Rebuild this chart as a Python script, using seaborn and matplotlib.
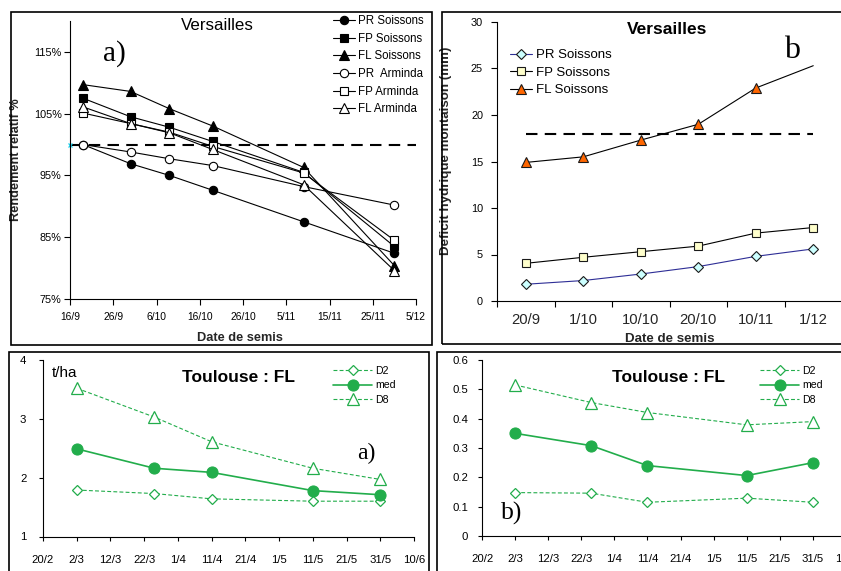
import matplotlib
matplotlib.use("Agg")
import matplotlib.pyplot as plt
import pandas as pd
import seaborn as sns
from matplotlib.patches import Rectangle
from matplotlib.ticker import PercentFormatter

W, H = 841, 571

# a) Versailles - relative yield (%) vs sowing date
SOW_A = ["19/9", "30/9", "9/10", "19/10", "9/11", "30/11"]
PR_SOISSONS = [100.0, 96.9, 95.0, 92.6, 87.5, 82.4]
FP_SOISSONS = [107.5, 104.5, 102.8, 100.5, 95.5, 83.5]
FL_SOISSONS = [109.7, 108.6, 105.8, 103.0, 96.3, 80.4]
PR_ARMINDA = [100.0, 98.8, 97.7, 96.6, 93.2, 90.2]
FP_ARMINDA = [105.1, 103.4, 102.0, 99.7, 95.4, 84.5]
FL_ARMINDA = [106.1, 103.4, 101.9, 99.2, 93.5, 79.6]
TICKS_A = ["16/9", "26/9", "6/10", "16/10", "26/10", "5/11", "15/11", "25/11", "5/12"]
YTICKS_A = [75, 85, 95, 105, 115]
REF_A = 100

# b) Versailles - water deficit at stem elongation (mm)
CATS_B = ["20/9", "1/10", "10/10", "20/10", "10/11", "1/12"]
PR_DEF = [1.8, 2.2, 2.9, 3.7, 4.8, 5.6]
FP_DEF = [4.05, 4.7, 5.3, 5.9, 7.3, 7.9]
FL_DEF = [14.9, 15.5, 17.3, 19.0, 22.9, 25.3]
YTICKS_B = [0, 5, 10, 15, 20, 25, 30]
THRESH_B = 18

# Toulouse : FL - deciles / median
SOW_T = ["2/3", "25/3", "11/4", "11/5", "31/5"]
D2_C = [1.79, 1.73, 1.64, 1.60, 1.60]
MED_C = [2.49, 2.16, 2.09, 1.78, 1.71]
D8_C = [3.52, 3.03, 2.61, 2.16, 1.97]
D2_D = [0.148, 0.146, 0.115, 0.129, 0.115]
MED_D = [0.350, 0.308, 0.240, 0.206, 0.250]
D8_D = [0.515, 0.455, 0.421, 0.379, 0.390]
TICKS_T = ["20/2", "2/3", "12/3", "22/3", "1/4", "11/4", "21/4", "1/5", "11/5", "21/5", "31/5", "10/6"]
YTICKS_C = [1, 2, 3, 4]
YTICKS_D = [0, 0.1, 0.2, 0.3, 0.4, 0.5, 0.6]
YLABELS_D = ["0", "0.1", "0.2", "0.3", "0.4", "0.5", "0.6"]

GREEN = "#22ad4b"


def to_date(text, year):
    day, month = text.split("/")
    return pd.Timestamp(year=year, month=int(month), day=int(day))


def px_box(x0, y0, x1, y1):
    return [x0 / W, 1 - y1 / H, (x1 - x0) / W, (y1 - y0) / H]


def ftext(fig, x, y, s, **kw):
    fig.text(x / W, 1 - y / H, s, ha="center", va="center", **kw)


def style_axis(ax):
    for side in ["top", "right"]:
        ax.spines[side].set_visible(False)
    for side in ["left", "bottom"]:
        ax.spines[side].set_color("black")
        ax.spines[side].set_linewidth(0.8)
    ax.tick_params(direction="out", width=0.8, color="black", labelcolor="black")


def legend_at(ax, x, y, fontsize, spacing, handlelength):
    ax.legend(
        loc="upper left",
        bbox_to_anchor=(x / W, 1 - y / H),
        bbox_transform=ax.figure.transFigure,
        frameon=False,
        borderaxespad=0,
        borderpad=0,
        fontsize=fontsize,
        labelspacing=spacing,
        handlelength=handlelength,
        handletextpad=0.3,
    )


sns.set_theme(style="ticks")
plt.rcParams["font.family"] = ["Liberation Sans", "DejaVu Sans"]
plt.rcParams["text.color"] = "black"
serif = ["Liberation Serif", "DejaVu Serif"]

fig = plt.figure(figsize=(W / 100, H / 100), dpi=100)

# ---------------- panel a ----------------
ax_a = fig.add_axes(px_box(70, 21, 416, 299))
dates_a = [to_date(s, 2000) for s in SOW_A]
series_a = [
    ("PR Soissons", PR_SOISSONS, "o", "black", 6),
    ("FP Soissons", FP_SOISSONS, "s", "black", 5.2),
    ("FL Soissons", FL_SOISSONS, "^", "black", 6.5),
    ("PR  Arminda", PR_ARMINDA, "o", "white", 6),
    ("FP Arminda", FP_ARMINDA, "s", "white", 5.2),
    ("FL Arminda", FL_ARMINDA, "^", "white", 6.5),
]
for label, values, marker, face, size in series_a:
    sns.lineplot(
        x=dates_a, y=values, ax=ax_a, color="black", linewidth=0.8,
        marker=marker, markersize=size, markerfacecolor=face,
        markeredgecolor="black", markeredgewidth=0.8, label=label, legend=False,
    )
tick_dates_a = [to_date(s, 2000) for s in TICKS_A]
ax_a.hlines(REF_A, tick_dates_a[0], tick_dates_a[-1], color="black", linewidth=1.5,
            linestyle=(0, (5.5, 3.5)), zorder=1)
ax_a.plot([tick_dates_a[0]], [REF_A], marker="x", color="#19d3f0", markersize=3.5,
          markeredgewidth=0.9, linestyle="none", clip_on=False)
ax_a.set_xlim(tick_dates_a[0], tick_dates_a[-1])
ax_a.set_ylim(75, 120)
ax_a.set_xticks(tick_dates_a)
ax_a.set_xticklabels(TICKS_A, fontsize=7.4)
ax_a.set_yticks(YTICKS_A)
ax_a.yaxis.set_major_formatter(PercentFormatter(xmax=100, decimals=0))
ax_a.tick_params(axis="y", labelsize=7.8, length=4, pad=2)
ax_a.tick_params(axis="x", length=4, pad=5)
style_axis(ax_a)
ax_a.set_xlabel("Date de semis", fontsize=9.2, fontweight="bold")
ax_a.set_ylabel("Rendement relatif %", fontsize=9.2, fontweight="bold")
ax_a.xaxis.set_label_coords(0.49, -0.118)
ax_a.yaxis.set_label_coords(-0.139, 0.5)
legend_at(ax_a, 333, 15, 8.3, 0.49, 1.9)
ftext(fig, 217, 26, "Versailles", fontsize=12.2)
ftext(fig, 114, 54, "a)", fontsize=21, family=serif)

# ---------------- panel b ----------------
ax_b = fig.add_axes(px_box(497, 22, 842, 301))
pos_b = list(range(len(CATS_B)))
sns.lineplot(x=pos_b, y=PR_DEF, ax=ax_b, color="#2e2e96", linewidth=0.8, marker="D",
             markersize=4.8, markerfacecolor="#ccffff", markeredgecolor="#1a1a1a",
             markeredgewidth=0.8, label="PR Soissons", legend=False)
sns.lineplot(x=pos_b, y=FP_DEF, ax=ax_b, color="black", linewidth=0.8, marker="s",
             markersize=6.3, markerfacecolor="#ffffcc", markeredgecolor="#1a1a1a",
             markeredgewidth=0.8, label="FP Soissons", legend=False)
sns.lineplot(x=pos_b, y=FL_DEF, ax=ax_b, color="black", linewidth=0.8, marker="^",
             markersize=7, markerfacecolor="#ff6600", markeredgecolor="#1a1a1a",
             markeredgewidth=0.8, markevery=list(range(len(CATS_B) - 1)),
             label="FL Soissons", legend=False)
ax_b.hlines(THRESH_B, pos_b[0], pos_b[-1], color="black", linewidth=1.5,
            linestyle=(0, (5.5, 3.5)), zorder=1)
ax_b.set_xlim(-0.5, len(CATS_B) - 0.5)
ax_b.set_ylim(YTICKS_B[0], YTICKS_B[-1])
ax_b.set_xticks([i - 0.5 for i in range(len(CATS_B) + 1)])
ax_b.set_xticklabels([])
ax_b.set_xticks(pos_b, minor=True)
ax_b.set_xticklabels(CATS_B, minor=True, fontsize=10.6)
ax_b.tick_params(axis="x", which="minor", length=0, pad=9)
ax_b.tick_params(axis="x", which="major", length=4)
ax_b.set_yticks(YTICKS_B)
ax_b.tick_params(axis="y", labelsize=7.8, length=4, pad=6)
style_axis(ax_b)
ax_b.set_xlabel("Date de semis", fontsize=9.6, fontweight="bold")
ax_b.set_ylabel("Deficit hydrique montaison (mm)", fontsize=9.6, fontweight="bold")
ax_b.xaxis.set_label_coords(0.5, -0.115)
ax_b.yaxis.set_label_coords(-0.13, 0.54)
legend_at(ax_b, 510, 49, 9.5, 0.4, 1.7)
ftext(fig, 667, 30, "Versailles", fontsize=12.5, fontweight="bold")
ftext(fig, 792, 51, "b", fontsize=23, family=serif)


# ---------------- panels c and d ----------------
def toulouse_panel(ax, d2, med, d8, yticks, ylabels, ypad):
    dates = [to_date(s, 2001) for s in SOW_T]
    sns.lineplot(x=dates, y=d2, ax=ax, color=GREEN, linewidth=0.8, linestyle=(0, (3.5, 2)),
                 marker="D", markersize=5.3, markerfacecolor="white", markeredgecolor=GREEN,
                 markeredgewidth=0.9, label="D2", legend=False)
    sns.lineplot(x=dates, y=med, ax=ax, color=GREEN, linewidth=1.2, marker="o",
                 markersize=8, markerfacecolor=GREEN, markeredgecolor=GREEN,
                 label="med", legend=False)
    sns.lineplot(x=dates, y=d8, ax=ax, color=GREEN, linewidth=0.8, linestyle=(0, (3.5, 2)),
                 marker="^", markersize=9, markerfacecolor="white", markeredgecolor=GREEN,
                 markeredgewidth=0.9, label="D8", legend=False)
    tick_dates = [to_date(s, 2001) for s in TICKS_T]
    ax.set_xlim(tick_dates[0], tick_dates[-1])
    ax.set_xticks(tick_dates)
    ax.set_xticklabels(TICKS_T, fontsize=8.2)
    ax.set_ylim(yticks[0], yticks[-1])
    ax.set_yticks(yticks)
    ax.set_yticklabels(ylabels, fontsize=8.2)
    ax.tick_params(axis="x", length=3, pad=10)
    ax.tick_params(axis="y", length=3, pad=ypad)
    style_axis(ax)
    ax.set_xlabel("")
    ax.set_ylabel("")


ax_c = fig.add_axes(px_box(43, 360, 414, 536.5))
toulouse_panel(ax_c, D2_C, MED_C, D8_C, YTICKS_C, [str(v) for v in YTICKS_C], 9)
legend_at(ax_c, 333, 366, 7.6, 0.42, 3.7)
ftext(fig, 239, 377, "Toulouse : FL", fontsize=12.5, fontweight="bold")
ftext(fig, 65, 373, "t/ha", fontsize=11)
ftext(fig, 366, 453, "a)", fontsize=17, family=serif)

ax_d = fig.add_axes(px_box(482, 360, 846, 536))
toulouse_panel(ax_d, D2_D, MED_D, D8_D, YTICKS_D, YLABELS_D, 7)
legend_at(ax_d, 760, 366, 7.6, 0.42, 3.7)
ftext(fig, 668, 377, "Toulouse : FL", fontsize=12.5, fontweight="bold")
ftext(fig, 512, 513, "b)", fontsize=18.5, family=serif)

# panel frames
for x0, y0, x1, y1 in [(11, 12, 432, 345), (442, 12, 880, 344),
                       (9, 352, 429, 600), (437, 352, 880, 600)]:
    fig.add_artist(Rectangle((x0 / W, 1 - y1 / H), (x1 - x0) / W, (y1 - y0) / H,
                             transform=fig.transFigure, fill=False,
                             edgecolor="black", linewidth=1.2))

fig.savefig("out.png", dpi=100)
plt.close(fig)
